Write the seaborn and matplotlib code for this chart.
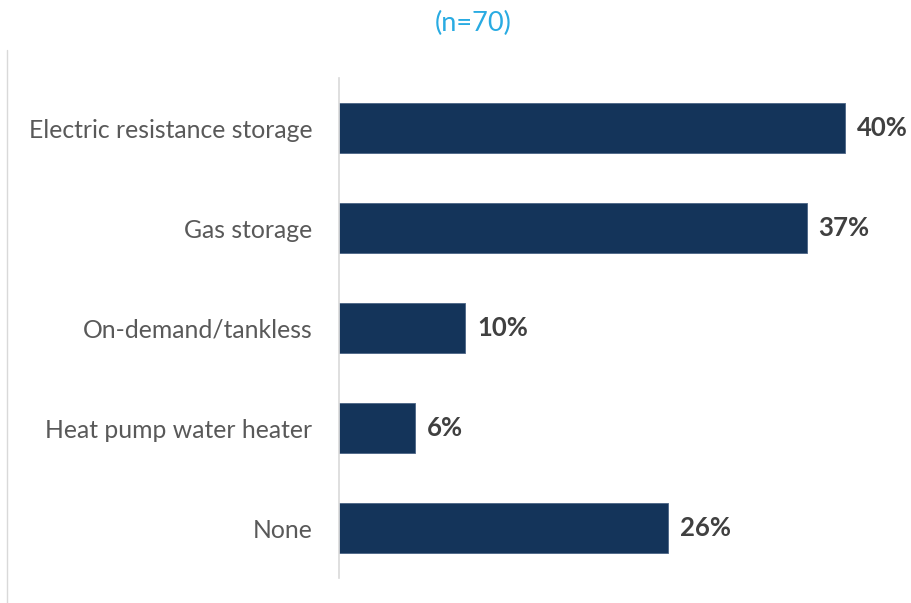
import matplotlib
matplotlib.use("Agg")
import matplotlib.pyplot as plt
import seaborn as sns
import pandas as pd
from matplotlib.lines import Line2D

categories = ["Electric resistance storage", "Gas storage", "On-demand/tankless",
              "Heat pump water heater", "None"]
values = [40, 37, 10, 6, 26]
value_labels = ["40%", "37%", "10%", "6%", "26%"]
title = "(n=70)"

sns.set_theme(style="white")
plt.rcParams['font.family'] = ['Lato', 'DejaVu Sans']

df = pd.DataFrame({"category": categories, "value": values})

fig = plt.figure(figsize=(9.11, 6.03), dpi=100)
ax = fig.add_axes([339/911, 1 - 578/603, (908 - 339)/911, 500/603])
sns.barplot(data=df, y="category", x="value", color="#14345A", saturation=1,
            width=0.5, ax=ax, orient="h", edgecolor="#4a6485", linewidth=0.6)
ax.set_xlim(0, 45)
ax.set_ylim(4.5, -0.5)
ax.set_xlabel("")
ax.set_ylabel("")
ax.set_xticks([])
ax.tick_params(axis="y", length=0, pad=19, labelsize=17.8, labelcolor="#595959")
for s in ["top", "right", "bottom"]:
    ax.spines[s].set_visible(False)
ax.spines["left"].set_color("#D9D9D9")
ax.spines["left"].set_linewidth(1.2)

for i, (v, lab) in enumerate(zip(values, value_labels)):
    ax.annotate(lab, xy=(v, i), xytext=(8.5, 0), textcoords="offset points",
                va="center", ha="left", fontsize=18.5, fontweight="bold", color="#404040")

fig.text(473/911, 1 - 23/603, title, ha="center", va="center", fontsize=19.5,
         color="#29ABE2")
fig.add_artist(Line2D([7/911, 7/911], [0, 1 - 50/603], color="#D9D9D9", linewidth=1.0,
                      transform=fig.transFigure))

fig.savefig("out.png", dpi=100)
